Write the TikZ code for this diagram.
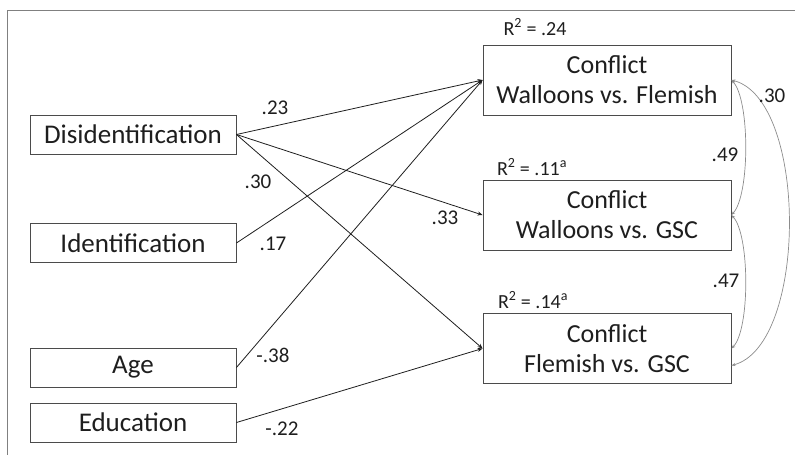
\documentclass[tikz,border=0pt]{standalone}
\usepackage{fontspec}
\setmainfont{Carlito}
\usetikzlibrary{arrows.meta}
\definecolor{ink}{HTML}{1E1E1E}
\begin{document}
\begin{tikzpicture}[x=1pt,y=-1pt,
  box/.style={draw=ink!80, line width=0.9pt, minimum height=39pt, inner sep=0pt, text=ink, font=\fontsize{27}{30}\selectfont},
  lbox/.style={box, minimum width=206pt},
  rbox/.style={box, minimum width=248pt, minimum height=70pt, align=center, font=\fontsize{26}{30}\selectfont},
  path/.style={draw=ink, line width=0.8pt, -{Stealth[length=5pt,width=4pt]}},
  cov/.style={draw=gray!90, line width=0.7pt, {Stealth[length=4pt,width=3pt]}-{Stealth[length=4pt,width=3pt]}},
  lab/.style={text=ink, font=\fontsize{21}{24}\selectfont, inner sep=0pt},
  rlab/.style={text=ink, font=\fontsize{20}{24}\selectfont, inner sep=0pt}]
\useasboundingbox (0,0) rectangle (795,455);
\draw[gray, line width=1pt] (7,455) -- (7,10) -- (795,10);

\node[lbox] (dis) at (133,134.5) {Disidentification};
\node[lbox] (idn) at (133,243) {Identification};
\node[lbox] (age) at (133,367.5) {Age};
\node[lbox] (edu) at (133,422.5) {Education};

\node[rbox] (c1) at (607,80) {Conflict\\Walloons vs. Flemish};
\node[rbox] (c2) at (607,215) {Conflict\\Walloons vs. GSC};
\node[rbox] (c3) at (607,348.5) {Conflict\\Flemish vs. GSC};

\draw[path] (dis.east) -- (c1.west);
\draw[path] (dis.east) -- (c2.west);
\draw[path] (dis.east) -- (c3.west);
\draw[path] (idn.east) -- (c1.west);
\draw[path] (age.east) -- (c1.west);
\draw[path] (edu.east) -- (c3.west);

\coordinate (c3b) at ([yshift=-17pt]c3.east);
\draw[cov] (c1.east) .. controls (750,100) and (750,195) .. (c2.east);
\draw[cov] (c2.east) .. controls (750,235) and (750,330) .. (c3.east);
\draw[cov] (c1.east) .. controls (808,100) and (808,345) .. (c3b);

\node[lab] (l23) at (275,108) {.23};
\node[lab] (l30a) at (258,182) {.30};
\node[lab] (l33) at (445,218) {.33};
\node[lab] (l17) at (273,244) {.17};
\node[lab] (l38) at (273,355) {-.38};
\node[lab] (l22) at (282,429) {-.22};

\node[rlab] (r1) at (535,27) {R\textsuperscript{2} = .24};
\node[rlab] (r2) at (532,167) {R\textsuperscript{2} = .11\textsuperscript{a}};
\node[rlab] (r3) at (533,300) {R\textsuperscript{2} = .14\textsuperscript{a}};

\node[lab] (l49) at (725,155) {.49};
\node[lab] (l47) at (726,281) {.47};
\node[lab] (l30b) at (772,96) {.30};
\end{tikzpicture}
\end{document}
